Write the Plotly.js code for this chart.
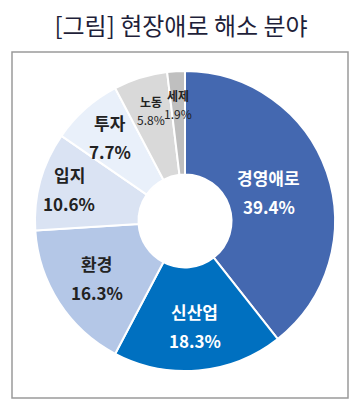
<!DOCTYPE html>
<html>
<head>
<meta charset="utf-8">
<script src="https://cdn.plot.ly/plotly-3.0.1.min.js"></script>
<style>html,body{margin:0;padding:0;background:#fff;}#chart{width:362px;height:406px;}</style>
</head>
<body>
<div id="chart"></div>
<script>
const categories = ['경영애로', '신산업', '환경', '입지', '투자', '노동', '세제'];
const shares = [39.4, 18.3, 16.3, 10.6, 7.7, 5.8, 1.9];
const sliceColors = ['#4468b0', '#0070c0', '#b4c7e7', '#dae3f3', '#e9f0fa', '#d9d9d9', '#bfbfbf'];
const labelColors = ['#ffffff', '#ffffff', '#222222', '#222222', '#222222', '#222222', '#222222'];

// label styling (not data): radial placement fraction, font size, boldness
const labelRadius = [0.59, 0.70, 0.70, 0.80, 0.75, 0.77, 0.78];
const labelSizes = [17, 17, 17, 17, 17, 12, 12];
const nameBold = [true, true, true, true, true, true, true];
const pctBold = [true, true, true, true, true, false, false];

const W = 362, H = 406;
const pieCx = 185, pieCy = 221, pieR = 150;
const dom = { x: [(pieCx - pieR) / W, (pieCx + pieR) / W], y: [1 - (pieCy + pieR) / H, 1 - (pieCy - pieR) / H] };

const trace = {
  type: 'pie',
  labels: categories,
  values: shares,
  textinfo: 'none',
  hoverinfo: 'label+value',
  sort: false,
  direction: 'clockwise',
  rotation: 0,
  hole: 0.31,
  marker: { colors: sliceColors, line: { color: '#ffffff', width: 2 } },
  domain: dom,
  showlegend: false
};

const total = shares.reduce((a, b) => a + b, 0);
const annotations = [];
let cum = 0;
shares.forEach((v, i) => {
  const mid = (cum + v / 2) / total;
  cum += v;
  const th = mid * 2 * Math.PI;
  const r = labelRadius[i] * pieR;
  const px = pieCx + r * Math.sin(th);
  const py = pieCy - r * Math.cos(th);
  const fs = labelSizes[i];
  const gap = fs >= 15 ? fs * 0.85 : fs * 0.75;
  const font = { family: 'Noto Sans CJK KR, sans-serif', size: fs, color: labelColors[i] };
  const nm = nameBold[i] ? '<b>' + categories[i] + '</b>' : categories[i];
  const pc = v.toFixed(1) + '%';
  annotations.push({
    xref: 'paper', yref: 'paper', x: px / W, y: 1 - (py - gap) / H,
    text: nm, showarrow: false, font: font, xanchor: 'center', yanchor: 'middle'
  });
  annotations.push({
    xref: 'paper', yref: 'paper', x: px / W, y: 1 - (py + gap) / H,
    text: pctBold[i] ? '<b>' + pc + '</b>' : pc, showarrow: false, font: font, xanchor: 'center', yanchor: 'middle'
  });
});

const layout = {
  width: W,
  height: H,
  margin: { l: 0, r: 0, t: 0, b: 0 },
  paper_bgcolor: '#ffffff',
  title: {
    text: '[그림] 현장애로 해소 분야',
    font: { family: 'Noto Sans CJK KR, sans-serif', size: 24, color: '#1f1f3a' },
    x: 0.5, xanchor: 'center', y: 1 - 27 / H, yanchor: 'middle'
  },
  annotations: annotations,
  shapes: [{
    type: 'rect', xref: 'paper', yref: 'paper',
    x0: 12 / W, x1: 348 / W, y0: 1 - 398 / H, y1: 1 - 52 / H,
    line: { color: '#9a9a9a', width: 1.5 }, fillcolor: 'rgba(0,0,0,0)', layer: 'below'
  }]
};

Plotly.newPlot('chart', [trace], layout, { displayModeBar: false, staticPlot: true });
</script>
</body>
</html>
